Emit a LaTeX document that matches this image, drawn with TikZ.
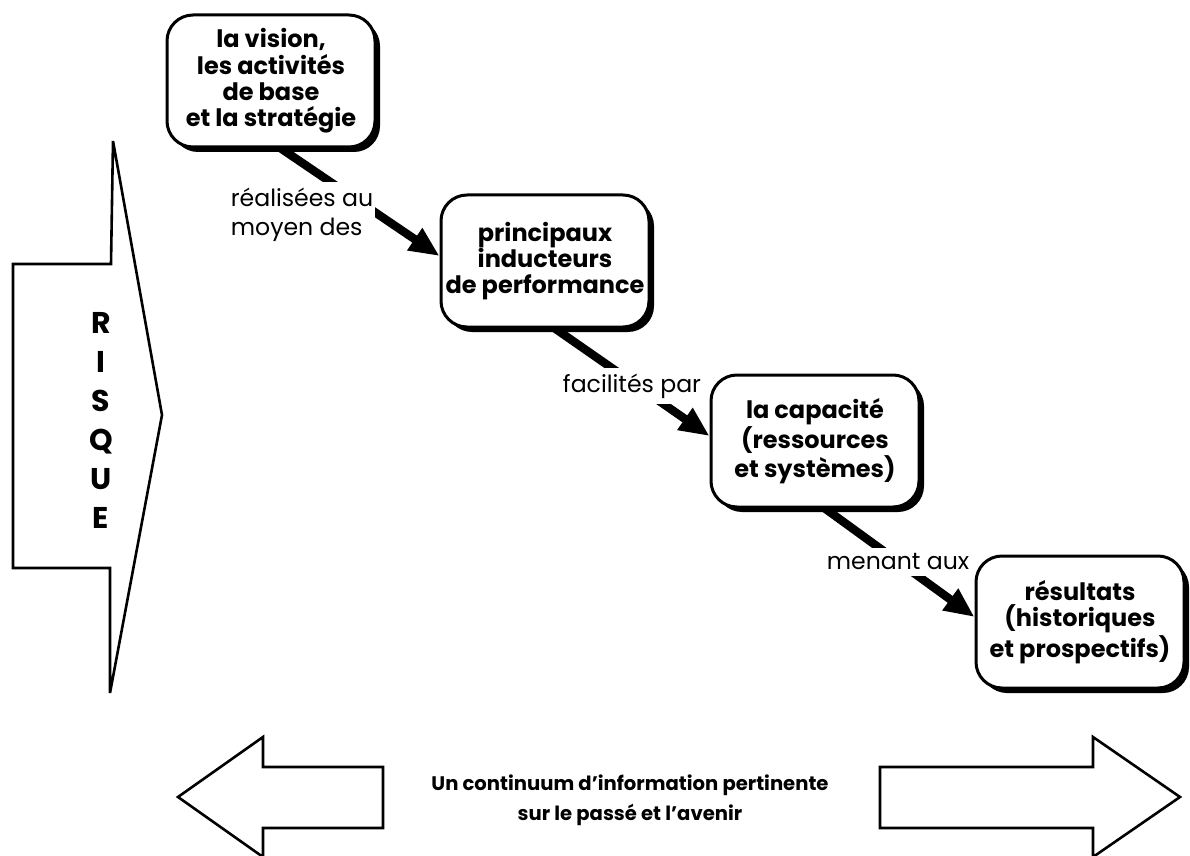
\documentclass[tikz,border=0pt]{standalone}
\usepackage{fontspec}
\setmainfont{Poppins}
\usetikzlibrary{arrows.meta,calc,shadows,backgrounds}

\begin{document}
\begin{tikzpicture}[x=0.5pt,y=-0.5pt]
    \tikzstyle{stage}=[draw, line width=1.5pt, fill=white, rounded corners=13pt,
        minimum width=104pt, minimum height=66pt, align=center, inner sep=1.5pt,
        font=\bfseries\fontsize{12}{13.2}\selectfont,
        general shadow={fill=black, shadow xshift=2.5pt, shadow yshift=-2.5pt}]
    \tikzstyle{link}=[line width=4.2pt, -{Triangle[length=15pt,width=12.5pt]}]
    \tikzstyle{link label}=[fill=white, inner xsep=1pt, inner ysep=3pt, align=left,
        font=\fontsize{11.8}{14.5}\selectfont]
    \tikzstyle{fat arrow}=[line width=1.3pt, line join=miter, fill=white]
    \useasboundingbox (0,0) rectangle (1190,856);

    % Draw the risk arrow on the left
    \draw[fat arrow] (113,141) -- (162,415) -- (110,693) -- (110,568) -- (13,568)
        -- (13,264) -- (111,264) -- cycle;
    \node[font=\bfseries\fontsize{15}{19.5}\selectfont, align=center] (risk) at (101,420)
        {R\\I\\S\\Q\\U\\E};

    % Draw the four stages
    \node[stage] (vision) at (271,81) {la vision,\\les activités\\de base\\et la stratégie};
    \node[stage] (drivers) at (545,261) {principaux\\inducteurs\\de performance};
    \node[stage] (capacity) at (815,441) {la capacité\\(ressources\\et systèmes)};
    \node[stage] (results) at (1080,622) {résultats\\(historiques\\et prospectifs)};

    % Connect each stage with the next one
    \begin{scope}[on background layer]
    \foreach \src/\dst in {vision/drivers, drivers/capacity, capacity/results}
        \draw[link] ($(\src.south)+(10,0)$) -- ($(\dst.west)+(0,-5)$);
    \end{scope}

    % Annotate the connectors
    \node[link label] (l1) at (302,215) {réalisées au\\moyen des};
    \node[link label] (l2) at (632,386) {facilités par};
    \node[link label] (l3) at (898,562) {menant aux};

    % Past and future arrows at the bottom
    \draw[fat arrow] (178,797) -- (263,737) -- (263,767) -- (383,767) -- (383,828)
        -- (263,828) -- (263,857) -- cycle;
    \draw[fat arrow] (1180,797) -- (1093,737) -- (1093,767) -- (880,767) -- (880,828)
        -- (1093,828) -- (1093,857) -- cycle;
    \node[font=\bfseries\fontsize{9.8}{15}\selectfont, align=center] (continuum) at (630,800)
        {Un continuum d’information pertinente\\sur le passé et l’avenir};
\end{tikzpicture}
\end{document}
